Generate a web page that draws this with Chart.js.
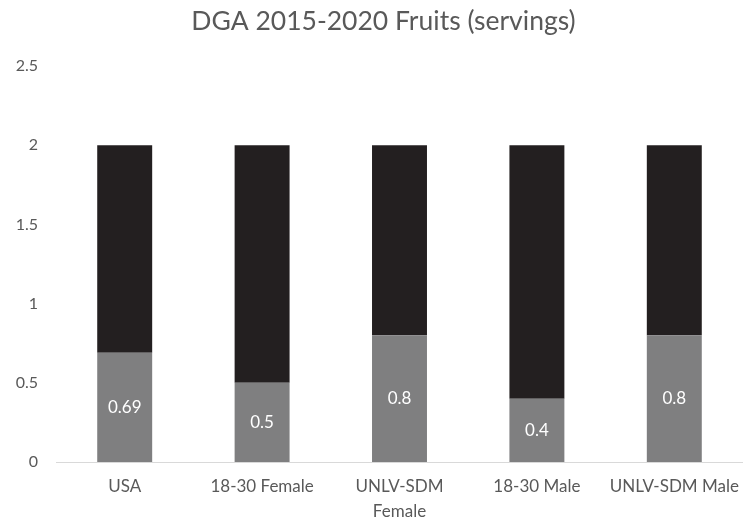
<!DOCTYPE html>
<html>
<head>
<meta charset="utf-8">
<script src="https://cdn.jsdelivr.net/npm/chart.js@4/dist/chart.umd.min.js"></script>
<style>
html,body{margin:0;padding:0;background:#fff;}
#wrap{width:743px;height:517px;position:relative;}
</style>
</head>
<body>
<div id="wrap"><canvas id="c" width="743" height="517"></canvas></div>
<script>
const categories = ["USA", "18-30 Female", ["UNLV-SDM", "Female"], "18-30 Male", "UNLV-SDM Male"];
const intakeValues = [0.69, 0.5, 0.8, 0.4, 0.8];
const remainderValues = [1.31, 1.5, 1.2, 1.6, 1.2];
const yTicks = [0, 0.5, 1, 1.5, 2, 2.5];
const titleText = "DGA 2015-2020 Fruits (servings)";

const FONT = "Lato, 'Open Sans', sans-serif";

const labelPlugin = {
  id: 'barLabels',
  afterDatasetsDraw(chart) {
    const ctx = chart.ctx;
    const meta = chart.getDatasetMeta(0);
    ctx.save();
    ctx.fillStyle = '#ffffff';
    ctx.font = "17px " + FONT;
    ctx.textAlign = 'center';
    ctx.textBaseline = 'middle';
    meta.data.forEach((bar, i) => {
      const p = bar.getProps(['x', 'y', 'base'], true);
      ctx.fillText(String(intakeValues[i]), p.x, (p.y + p.base) / 2);
    });
    ctx.restore();
  }
};

const titlePlugin = {
  id: 'offsetTitle',
  afterDraw(chart) {
    const ctx = chart.ctx;
    ctx.save();
    ctx.fillStyle = '#595959';
    ctx.font = "26.5px " + FONT;
    ctx.textAlign = 'center';
    ctx.textBaseline = 'alphabetic';
    ctx.fillText(titleText, (chart.chartArea.left + chart.width) / 2 - 16, 30);
    ctx.restore();
  }
};

new Chart(document.getElementById('c'), {
  type: 'bar',
  data: {
    labels: categories,
    datasets: [
      { label: 'Intake', data: intakeValues, backgroundColor: '#7f7f80', borderWidth: 0, categoryPercentage: 1, barPercentage: 0.4 },
      { label: 'Recommended', data: remainderValues, backgroundColor: '#231f20', borderWidth: 0, categoryPercentage: 1, barPercentage: 0.4 }
    ]
  },
  options: {
    responsive: false,
    animation: false,
    layout: { padding: { left: 0, right: 0, top: 66, bottom: 0 } },
    plugins: {
      legend: { display: false },
      tooltip: { enabled: false },
      title: { display: false }
    },
    scales: {
      x: {
        stacked: true,
        afterFit(axis) { axis.height = 55; axis.paddingLeft = 0; axis.paddingRight = 0; },
        grid: { display: false, drawTicks: false },
        border: { display: true, color: '#d9d9d9', width: 1 },
        ticks: { color: '#595959', font: { family: FONT, size: 17, lineHeight: 1.47 }, padding: 12, maxRotation: 0, autoSkip: false }
      },
      y: {
        stacked: true,
        min: 0,
        max: 2.5,
        afterBuildTicks(axis) { axis.ticks = yTicks.map(v => ({ value: v })); },
        afterFit(axis) { axis.width = 56; axis.paddingTop = 0; axis.paddingBottom = 0; },
        grid: { display: false, drawTicks: false },
        border: { display: false },
        ticks: { color: '#595959', font: { family: FONT, size: 16 }, padding: 18, callback: v => String(v) }
      }
    }
  },
  plugins: [labelPlugin, titlePlugin]
});
</script>
</body>
</html>
